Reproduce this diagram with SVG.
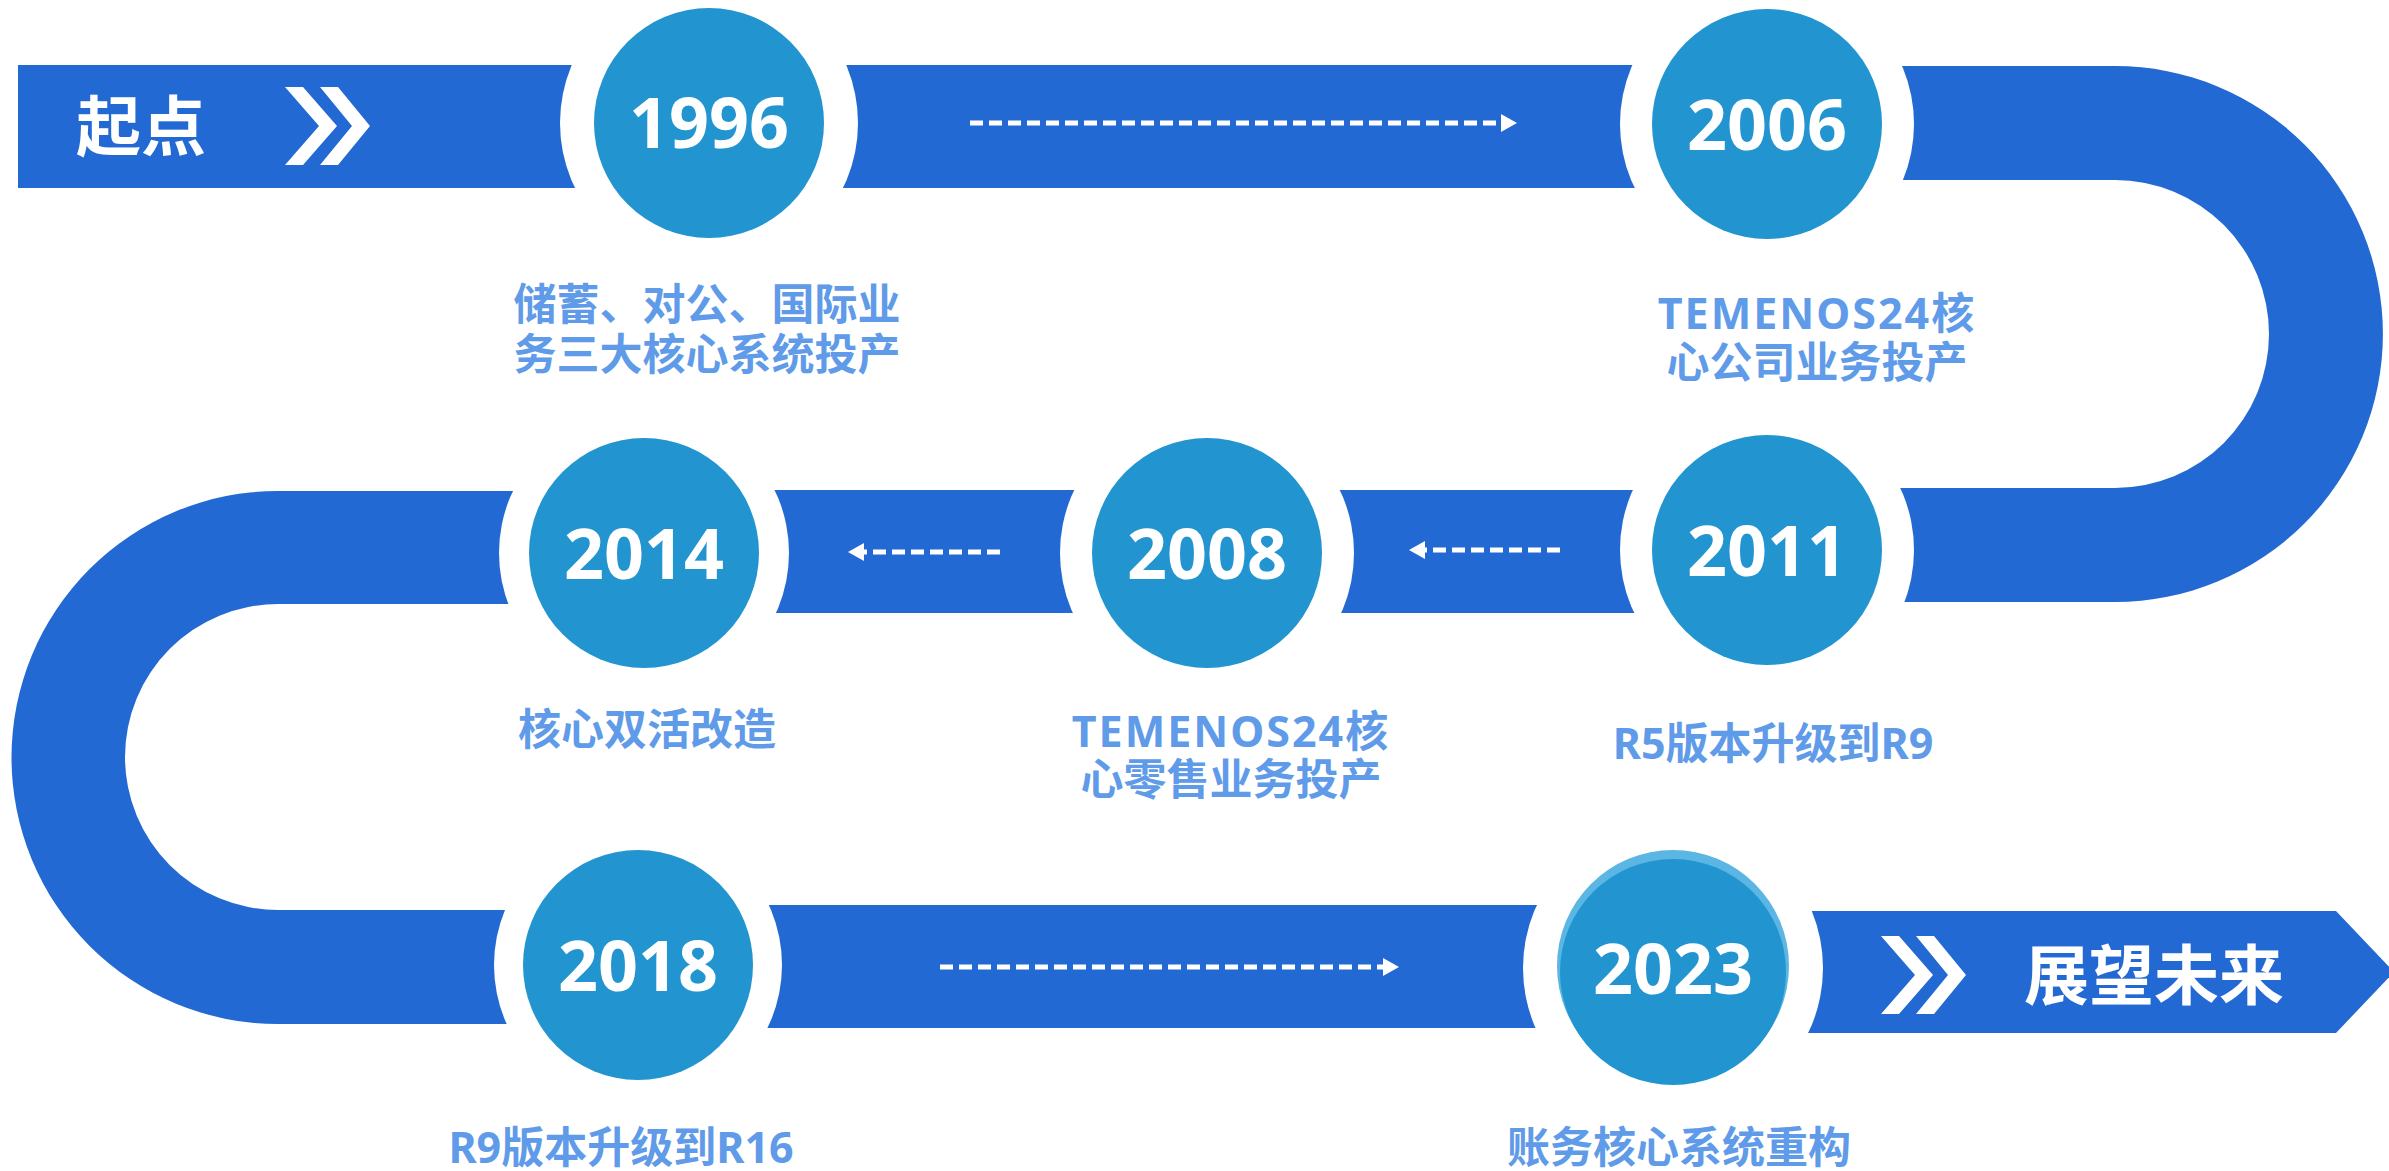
<svg xmlns="http://www.w3.org/2000/svg" width="2389" height="1171" viewBox="0 0 2389 1171">
<defs>
<style>
.track{fill:#2369D3}
.halo{fill:#FFFFFF}
.disc{fill:#2295D0}
.year{font-family:"Noto Sans","Open Sans","Noto Sans CJK SC",sans-serif;font-weight:700;font-size:70px;fill:#FFFFFF;text-anchor:middle}
.cap{font-family:"Noto Sans","Noto Sans CJK SC",sans-serif;font-weight:700;font-size:43px;fill:#5F9BE8;text-anchor:middle}
.lat{letter-spacing:2px}
.big{font-family:"Noto Sans CJK SC","Noto Sans",sans-serif;font-weight:700;font-size:65px;fill:#FFFFFF;text-anchor:middle}
.chev{fill:#FFFFFF}
.dash{stroke:#FFFFFF;stroke-width:5;stroke-dasharray:13 6;fill:none}
</style>
<marker id="ah" markerUnits="userSpaceOnUse" markerWidth="17" markerHeight="18" refX="1" refY="9" orient="auto">
<path d="M0,0 L16,9 L0,18 Z" fill="#FFFFFF"/>
</marker>
<g id="chevrons">
<polygon points="285,87 303,87 337,126 303,165 285,165 319,126"/>
<polygon points="320,87 338,87 370,126 338,165 320,165 352,126"/>
</g>
</defs>

<g id="track">
<rect class="track" x="18" y="65" width="1749" height="123"/>
<path class="track" d="M1767,66 H2115 A268,268 0 0 1 2115,602 H1767 V488 H2115 A154,154 0 0 0 2115,180 H1767 Z"/>
<rect class="track" x="644" y="490" width="1123" height="123"/>
<path class="track" d="M644,491 H278 A266.5,266.5 0 0 0 278,1024 H644 V910 H278 A153,153 0 0 1 278,604 H644 Z"/>
<rect class="track" x="638" y="905" width="1035" height="123"/>
<path class="track" d="M1673,911 H2336 L2394,972 L2336,1033 H1673 Z"/>
</g>

<g id="start">
<text class="big" x="141" y="150">起点</text>
<use href="#chevrons" class="chev" fill="#FFFFFF"/>
</g>

<g id="node-1996">
<circle class="halo" cx="709" cy="123" r="149"/>
<circle class="disc" cx="709" cy="123" r="115"/>
<text class="year" x="709" y="148">1996</text>
<text class="cap" x="707" y="320">储蓄、对公、国际业<tspan x="707" dy="50">务三大核心系统投产</tspan></text>
</g>

<g id="node-2006">
<circle class="halo" cx="1767" cy="124" r="147"/>
<circle class="disc" cx="1767" cy="124" r="115"/>
<text class="year" x="1767" y="150">2006</text>
<text class="cap" x="1817" y="329"><tspan class="lat">TEMENOS24核</tspan><tspan x="1817" dy="49">心公司业务投产</tspan></text>
</g>

<g id="node-2011">
<circle class="halo" cx="1767" cy="550" r="147"/>
<circle class="disc" cx="1767" cy="550" r="115"/>
<text class="year" x="1767" y="576">2011</text>
<text class="cap" x="1773" y="759">R5版本升级到R9</text>
</g>

<g id="node-2008">
<circle class="halo" cx="1207" cy="553" r="147"/>
<circle class="disc" cx="1207" cy="553" r="115"/>
<text class="year" x="1207" y="579">2008</text>
<text class="cap" x="1231" y="747"><tspan class="lat">TEMENOS24核</tspan><tspan x="1231" dy="48">心零售业务投产</tspan></text>
</g>

<g id="node-2014">
<circle class="halo" cx="644" cy="553" r="145"/>
<circle class="disc" cx="644" cy="553" r="115"/>
<text class="year" x="644" y="579">2014</text>
<text class="cap" x="647" y="745">核心双活改造</text>
</g>

<g id="node-2018">
<circle class="halo" cx="638" cy="965" r="144"/>
<circle class="disc" cx="638" cy="965" r="115"/>
<text class="year" x="638" y="991">2018</text>
<text class="cap" x="621" y="1163">R9版本升级到R16</text>
</g>

<g id="node-2023">
<circle class="halo" cx="1673" cy="968" r="150"/>
<circle cx="1673" cy="966" r="116" fill="#5BB6E4"/>
<circle class="disc" cx="1673" cy="972" r="113"/>
<text class="year" x="1673" y="994">2023</text>
<text class="cap" x="1679" y="1163">账务核心系统重构</text>
</g>

<g id="end">
<use href="#chevrons" class="chev" fill="#FFFFFF" transform="translate(1596,849)"/>
<text class="big" x="2154" y="999">展望未来</text>
</g>

<g id="connectors">
<line class="dash" x1="970" y1="123" x2="1502" y2="123" marker-end="url(#ah)"/>
<line class="dash" x1="1000" y1="552" x2="863" y2="552" marker-end="url(#ah)"/>
<line class="dash" x1="1560" y1="550" x2="1424" y2="550" marker-end="url(#ah)"/>
<line class="dash" x1="940" y1="967" x2="1384" y2="967" marker-end="url(#ah)"/>
</g>
</svg>
